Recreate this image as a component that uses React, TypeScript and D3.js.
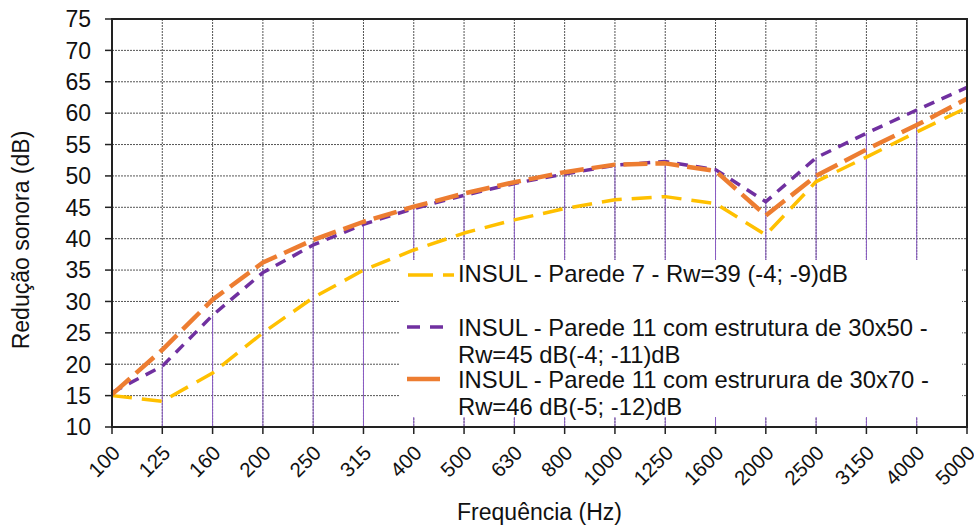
import React from "react";
import * as d3 from "d3";

const categories = ["100","125","160","200","250","315","400","500","630","800","1000","1250","1600","2000","2500","3150","4000","5000"];
const parede7 = [15, 14.1, 18.6, 25, 30.6, 35, 38.2, 40.9, 43, 44.8, 46.2, 46.7, 45.6, 40.6, 49.1, 53, 57, 60.9];
const parede11_30x50 = [15.5, 19.7, 27.8, 34.6, 39, 42.3, 44.8, 46.9, 48.8, 50.3, 51.7, 52.3, 51, 45.9, 52.9, 56.8, 60.5, 64.1];
const parede11_30x70 = [15.2, 22.3, 30.3, 36.2, 39.8, 42.7, 45.1, 47.2, 49, 50.6, 51.8, 52, 50.8, 43.7, 50, 54.2, 58.1, 62.3];
const yTicks = [10, 15, 20, 25, 30, 35, 40, 45, 50, 55, 60, 65, 70, 75];
const legendLabels = [
  ["INSUL - Parede 7 - Rw=39 (-4; -9)dB"],
  ["INSUL - Parede 11 com estrutura de 30x50 -", "Rw=45 dB(-4; -11)dB"],
  ["INSUL - Parede 11 com estrurura de 30x70 -", "Rw=46 dB(-5; -12)dB"],
];

const W = 974, H = 526;
const L = 112, R = 967, T = 19, B = 427;
const FONT = "'Liberation Sans', Arial, sans-serif";

export default function App() {
  const x = d3.scalePoint<string>().domain(categories).range([L, R]);
  const y = d3.scaleLinear().domain([10, 75]).range([B, T]);
  const line = d3.line<number>().x((_, i) => x(categories[i])!).y(d => y(d));

  const series = [
    { data: parede7, color: "#FFC000", width: 3.5, dash: "20,10" },
    { data: parede11_30x50, color: "#7030A0", width: 3.5, dash: "11,8" },
    { data: parede11_30x70, color: "#ED7D31", width: 4.5, dash: "24,8" },
  ];

  const legendSampleY = [275, 327, 379];
  const legendBaseY = [282, 336, 388];
  const legendSamples = [
    { color: "#FFC000", width: 3.5, dash: "25,10", x1: 408, x2: 454 },
    { color: "#7030A0", width: 3.5, dash: "13,10", x1: 407, x2: 443 },
    { color: "#ED7D31", width: 4.5, dash: "", x1: 407, x2: 440 },
  ];

  return (
    <svg width={W} height={H} style={{ position: "absolute", left: 0, top: 0, background: "#fff" }} fontFamily={FONT}>
      <rect x={0} y={0} width={W} height={H} fill="#fff" />
      {yTicks.map(t => (
        <line key={"h" + t} x1={L} x2={R} y1={y(t)} y2={y(t)} stroke="#555" strokeWidth={1} strokeDasharray="2,1" />
      ))}
      {categories.map(c => (
        <line key={"v" + c} x1={x(c)} x2={x(c)} y1={T} y2={B} stroke="#555" strokeWidth={1} strokeDasharray="2,1" />
      ))}
      {categories.map((c, i) => (
        <line key={"d" + c} x1={x(c)} x2={x(c)} y1={B} y2={y(parede11_30x50[i])} stroke="#8a5cc4" strokeWidth={1} />
      ))}
      <rect x={400} y={260} width={562} height={157} fill="#fff" />
      {series.map((s, i) => (
        <path key={"s" + i} d={line(s.data)!} fill="none" stroke={s.color} strokeWidth={s.width} strokeDasharray={s.dash} strokeLinejoin="round" />
      ))}
      <rect x={L} y={T} width={R - L} height={B - T} fill="none" stroke="#222" strokeWidth={2} />
      {yTicks.map(t => (
        <g key={"yt" + t}>
          <line x1={L - 7} x2={L} y1={y(t)} y2={y(t)} stroke="#222" strokeWidth={1.5} />
          <text x={91} y={y(t)} dy="0.36em" textAnchor="end" fontSize={23} fill="#111">{t}</text>
        </g>
      ))}
      {categories.map(c => (
        <g key={"xt" + c}>
          <line x1={x(c)} x2={x(c)} y1={B} y2={B + 7} stroke="#222" strokeWidth={1.5} />
          <text transform={`translate(${x(c)! + 4},${B + 22}) rotate(-45)`} textAnchor="end" dy="0.36em" fontSize={20.5} fill="#111">{c}</text>
        </g>
      ))}
      <text x={(L + R) / 2} y={520} textAnchor="middle" fontSize={23} fill="#111">Frequência (Hz)</text>
      <text transform={`translate(29,240) rotate(-90)`} textAnchor="middle" fontSize={23} fill="#111">Redução sonora (dB)</text>
      {legendLabels.map((lines, i) => (
        <g key={"lg" + i}>
          <line x1={legendSamples[i].x1} x2={legendSamples[i].x2} y1={legendSampleY[i]} y2={legendSampleY[i]} stroke={legendSamples[i].color} strokeWidth={legendSamples[i].width} strokeDasharray={legendSamples[i].dash} />
          {lines.map((t, j) => (
            <text key={j} x={458} y={legendBaseY[i] + j * 27} fontSize={23.8} fill="#111">{t}</text>
          ))}
        </g>
      ))}
    </svg>
  );
}
